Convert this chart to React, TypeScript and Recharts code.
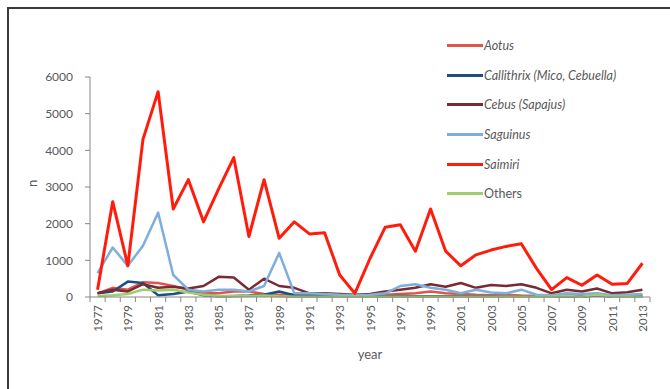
import { LineChart, Line, XAxis, YAxis } from "recharts";

const years = [
  1977, 1978, 1979, 1980, 1981, 1982, 1983, 1984, 1985, 1986, 1987, 1988, 1989,
  1990, 1991, 1992, 1993, 1994, 1995, 1996, 1997, 1998, 1999, 2000, 2001, 2002,
  2003, 2004, 2005, 2006, 2007, 2008, 2009, 2010, 2011, 2012, 2013,
];

const aotus = [
  100, 250, 200, 400, 380, 300, 200, 100, 100, 150, 150, 80, 60, 60, 50, 40, 30,
  20, 40, 60, 80, 100, 150, 100, 80, 60, 50, 60, 40, 30, 30, 50, 40, 60, 30, 40, 50,
];
const callithrix = [
  100, 150, 420, 380, 50, 80, 150, 50, 20, 30, 40, 60, 150, 50, 30, 20, 10, 10,
  10, 20, 30, 20, 20, 20, 20, 20, 20, 10, 10, 10, 10, 20, 10, 50, 10, 10, 10,
];
const cebus = [
  100, 200, 150, 350, 250, 280, 230, 300, 550, 530, 200, 500, 300, 250, 100, 100,
  80, 60, 80, 150, 200, 250, 350, 280, 380, 250, 330, 300, 350, 250, 100, 200,
  150, 230, 100, 130, 200,
];
const saguinus = [
  650, 1350, 850, 1400, 2300, 600, 200, 150, 200, 200, 150, 300, 1200, 100, 100,
  80, 60, 50, 60, 100, 300, 350, 250, 200, 100, 200, 120, 100, 200, 60, 50, 100,
  80, 100, 50, 60, 80,
];
const saimiri = [
  200, 2600, 850, 4300, 5600, 2400, 3200, 2050, 2950, 3800, 1650, 3200, 1600,
  2050, 1720, 1750, 600, 100, 1050, 1900, 1970, 1250, 2400, 1250, 850, 1150, 1280,
  1380, 1450, 780, 200, 530, 320, 600, 350, 370, 920,
];
const others = [
  30, 50, 80, 200, 180, 200, 120, 60, 20, 20, 30, 40, 20, 10, 10, 10, 10, 10, 10,
  10, 10, 10, 10, 10, 10, 10, 10, 10, 10, 10, 10, 30, 10, 60, 10, 10, 10,
];

const yTicks = [0, 1000, 2000, 3000, 4000, 5000, 6000];

const series = [
  { key: "aotus", name: "Aotus", values: aotus, color: "#e0564a", width: 2.5, italic: true },
  { key: "callithrix", name: "Callithrix (Mico, Cebuella)", values: callithrix, color: "#1f4d8a", width: 2.5, italic: true },
  { key: "cebus", name: "Cebus (Sapajus)", values: cebus, color: "#7a2a33", width: 2.5, italic: true },
  { key: "saguinus", name: "Saguinus", values: saguinus, color: "#7eaedd", width: 2.5, italic: true },
  { key: "saimiri", name: "Saimiri", values: saimiri, color: "#ff1c0c", width: 3, italic: true },
  { key: "others", name: "Others", values: others, color: "#9fcc6c", width: 2.5, italic: false },
];

const data = years.map((year, i) => {
  const row: Record<string, number> = { year };
  series.forEach((s) => {
    row[s.key] = s.values[i];
  });
  return row;
});

// tick marks sit on the category boundaries, labels in the category centres
const boundaryTicks = years.map((y) => y - 0.5).concat(years[years.length - 1] + 0.5);

const PAGE_W = 670;
const PAGE_H = 389;
const W = 662;
const H = 381;
const PLOT_LEFT = 82;
const PLOT_RIGHT = 20;
const HALF_STEP = (W - PLOT_LEFT - PLOT_RIGHT) / years.length / 2;
const FONT = "Lato, 'Open Sans', sans-serif";
const TEXT = "#595959";
const FRAME = "#3a3a3a";

function YearTick(props: any) {
  const { x, y, payload } = props;
  const year = payload.value + 0.5;
  if (year > years[years.length - 1] || year % 2 === 0) return <g />;
  const cx = x + HALF_STEP;
  return (
    <text
      x={cx}
      y={y}
      transform={`rotate(-90 ${cx} ${y})`}
      textAnchor="end"
      dominantBaseline="central"
      fontSize={11.5}
      fontFamily={FONT}
      fill={TEXT}
    >
      {year}
    </text>
  );
}

function SeriesLegend() {
  return (
    <div
      style={{
        position: "absolute",
        left: 447,
        top: 31,
        fontFamily: FONT,
        fontSize: 12.5,
        color: TEXT,
      }}
    >
      {series.map((s) => (
        <div key={s.key} style={{ display: "flex", alignItems: "center", height: 29.6 }}>
          <span style={{ width: 36, height: 3, background: s.color, display: "inline-block" }} />
          <span style={{ fontStyle: s.italic ? "italic" : "normal", marginLeft: 1 }}>{s.name}</span>
        </div>
      ))}
    </div>
  );
}

export default function App() {
  return (
    <div
      style={{
        position: "fixed",
        left: 0,
        top: 0,
        width: PAGE_W,
        height: PAGE_H,
        overflow: "hidden",
        background: "#fff",
      }}
    >
      <div style={{ position: "absolute", left: 8, top: 8 }}>
        <LineChart
          width={W}
          height={H}
          data={data}
          margin={{ top: 69, right: PLOT_RIGHT, bottom: 0, left: 0 }}
        >
          <XAxis
            dataKey="year"
            type="number"
            domain={[boundaryTicks[0], boundaryTicks[boundaryTicks.length - 1]]}
            ticks={boundaryTicks}
            interval={0}
            height={92}
            tickSize={5}
            tickMargin={3}
            tick={<YearTick />}
            stroke="#868686"
            label={{
              value: "year",
              position: "insideBottom",
              offset: 30,
              fontSize: 13,
              fontFamily: FONT,
              fill: TEXT,
            }}
          />
          <YAxis
            width={PLOT_LEFT}
            domain={[0, 6000]}
            ticks={yTicks}
            tickSize={5}
            tickMargin={12}
            stroke="#868686"
            tick={{ fontSize: 12, fontFamily: FONT, fill: TEXT }}
            label={{
              value: "n",
              angle: -90,
              position: "insideLeft",
              offset: 24,
              fontSize: 13,
              fontFamily: FONT,
              fill: TEXT,
            }}
          />
          {series.map((s) => (
            <Line
              key={s.key}
              type="linear"
              dataKey={s.key}
              name={s.name}
              stroke={s.color}
              strokeWidth={s.width}
              strokeLinejoin="round"
              dot={false}
              isAnimationActive={false}
            />
          ))}
        </LineChart>
      </div>
      <SeriesLegend />
      {/* outer frame: only its top and left edges fall inside the page */}
      <div
        style={{
          position: "absolute",
          left: 7,
          top: 7,
          width: PAGE_W,
          height: PAGE_H,
          borderLeft: `2px solid ${FRAME}`,
          borderTop: `2px solid ${FRAME}`,
        }}
      />
    </div>
  );
}
